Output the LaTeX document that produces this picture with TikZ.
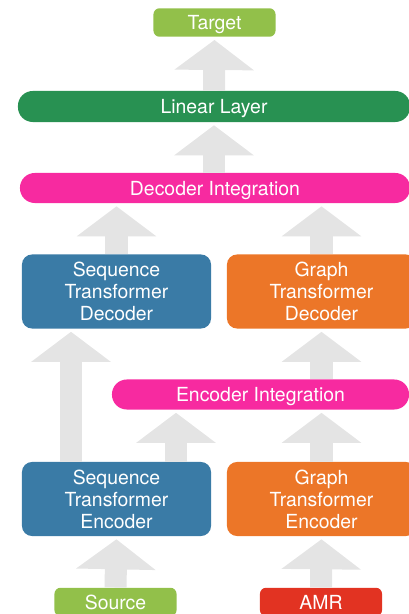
\documentclass[tikz,border=0pt]{standalone}
\usepackage{fontspec}
\setmainfont{TeX Gyre Heros}
\usetikzlibrary{arrows.meta, calc}

\definecolor{leafgreen}{HTML}{92C04A}
\definecolor{layergreen}{HTML}{289152}
\definecolor{integpink}{HTML}{F72AA0}
\definecolor{seqblue}{HTML}{3A7BA6}
\definecolor{graphorange}{HTML}{EC7628}
\definecolor{amrred}{HTML}{E23322}
\definecolor{arrowgray}{HTML}{E4E4E4}

\begin{document}
\begin{tikzpicture}[x=0.025cm, y=0.025cm,
	block/.style={rectangle, fill=#1, text=white, align=center, inner sep=0pt,
		font=\fontsize{13.8}{15.6}\selectfont},
	module/.style={block=#1, rounded corners=0.25cm, minimum width=4.725cm, minimum height=1.85cm},
	bar/.style={block=#1, text depth=0pt, rounded corners=0.37cm, minimum height=0.75cm},
	tag/.style={block=#1, text depth=0pt, rounded corners=0.15cm, minimum width=3.05cm, minimum height=0.71cm},
	fat/.style={draw=arrowgray, line width=0.55cm, -{Triangle[width=1.95cm, length=0.75cm]}, shorten >=0.075cm}]
	\useasboundingbox (0,0) rectangle (409,614);
	\node[tag=leafgreen] (target) at (214.5,591.5) {Target};
	\node[bar=layergreen, minimum width=9.8cm, minimum height=0.775cm] (linear) at (214,507.5) {Linear Layer};
	\node[bar=integpink, minimum width=9.75cm] (decint) at (215,426) {Decoder Integration};
	\node[module=seqblue] (seqdec) at (116.5,322.5) {Sequence\\Transformer\\Decoder};
	\node[module=graphorange] (graphdec) at (321.5,322.5) {Graph\\Transformer\\Decoder};
	\node[bar=integpink, minimum width=7.425cm] (encint) at (260.5,219.5) {Encoder Integration};
	\node[module=seqblue] (seqenc) at (116.5,115) {Sequence\\Transformer\\Encoder};
	\node[module=graphorange] (graphenc) at (321.5,115) {Graph\\Transformer\\Encoder};
	\node[tag=leafgreen] (source) at (115.5,12) {Source};
	\node[tag=amrred] (amr) at (321,12) {AMR};
	\draw[fat] (source.north) -- (seqenc.south);
	\draw[fat] (amr.north) -- (graphenc.south);
	\draw[fat] ($(seqenc.north)+(-45.5,0)$) coordinate (seqskip) -- (seqskip |- seqdec.south);
	\draw[fat] ($(seqenc.north)+(59.5,0)$) coordinate (seqmix) -- (seqmix |- encint.south);
	\draw[fat] (graphenc.north) -- (graphenc.north |- encint.south);
	\draw[fat] (graphenc.north |- encint.north) -- (graphdec.south);
	\draw[fat] (seqdec.north) -- (seqdec.north |- decint.south);
	\draw[fat] (graphdec.north) -- (graphdec.north |- decint.south);
	\draw[fat] (decint.north -| linear.south) -- (linear.south);
	\draw[fat] (linear.north) -- (target.south);
\end{tikzpicture}
\end{document}
